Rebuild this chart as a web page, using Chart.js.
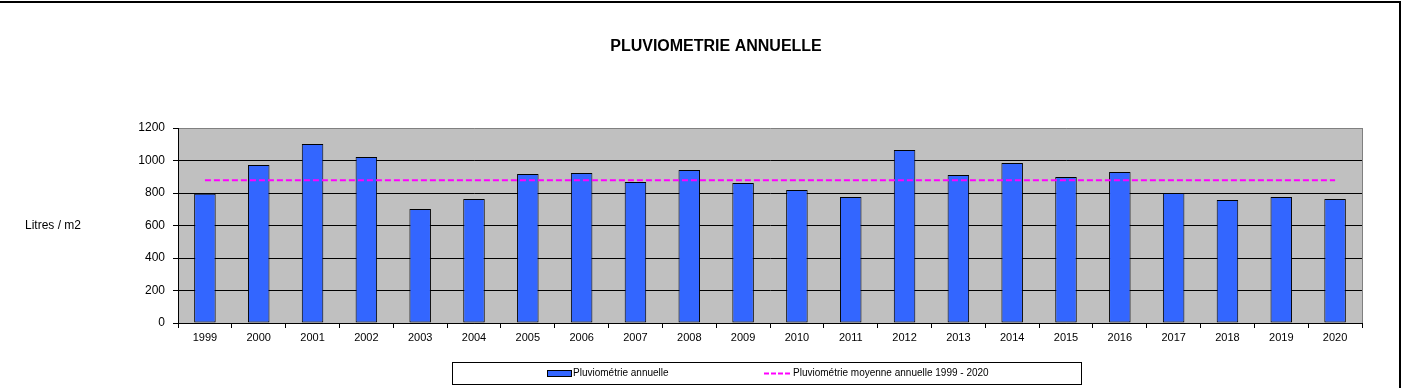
<!DOCTYPE html>
<html lang="fr">
<head>
<meta charset="utf-8">
<title>Pluviométrie annuelle</title>
<script src="https://cdn.jsdelivr.net/npm/chart.js@4/dist/chart.umd.min.js"></script>
<style>
  html, body { margin: 0; padding: 0; background: #ffffff; }
  #wrap { width: 1402px; height: 388px; }
</style>
</head>
<body>
<div id="wrap"><canvas id="chart" width="1402" height="388"></canvas></div>
<script>
// Annual rainfall (litres / m2), 1999 - 2020
const YEARS = ['1999', '2000', '2001', '2002', '2003', '2004', '2005', '2006', '2007', '2008', '2009',
               '2010', '2011', '2012', '2013', '2014', '2015', '2016', '2017', '2018', '2019', '2020'];
const RAINFALL = [795, 972, 1101, 1021, 701, 763, 917, 923, 868, 941, 861,
                  818, 775, 1064, 911, 984, 898, 929, 800, 757, 775, 763];
const MEAN_RAINFALL = [879, 879, 879, 879, 879, 879, 879, 879, 879, 879, 879,
                       879, 879, 879, 879, 879, 879, 879, 879, 879, 879, 879];
const Y_TICKS = [0, 200, 400, 600, 800, 1000, 1200];

const TITLE = 'PLUVIOMETRIE ANNUELLE';
const Y_TITLE = 'Litres / m2';
const BAR_LABEL = 'Pluviométrie annuelle';
const MEAN_LABEL = 'Pluviométrie moyenne annuelle 1999 - 2020';

const FONT = '"Liberation Sans", Arial, Helvetica, sans-serif';
const BAR_COLOR = '#3366FF';
const MEAN_COLOR = '#FF00FF';
const PLOT_BG = '#C0C0C0';

// Page frame, grey plot background, title and the horizontal y-axis caption
const framePlugin = {
  id: 'frame',
  beforeDraw(chart) {
    const { ctx, chartArea: a, width, height } = chart;
    ctx.save();
    ctx.fillStyle = '#ffffff';
    ctx.fillRect(0, 0, width, height);
    ctx.fillStyle = PLOT_BG;
    ctx.fillRect(a.left, a.top, a.right - a.left, a.bottom - a.top);
    ctx.restore();
  },
  beforeDatasetsDraw(chart) {
    const { ctx, chartArea: a } = chart;
    ctx.save();
    ctx.strokeStyle = '#808080';
    ctx.lineWidth = 1;
    ctx.beginPath();
    ctx.moveTo(Math.round(a.right) + 0.5, a.top);
    ctx.lineTo(Math.round(a.right) + 0.5, a.bottom);
    ctx.stroke();
    ctx.restore();
  },
  afterDraw(chart) {
    const { ctx, chartArea: a, width, height } = chart;
    ctx.save();
    // sheet frame
    ctx.strokeStyle = '#000000';
    ctx.lineWidth = 2;
    ctx.beginPath();
    ctx.moveTo(0, 2);
    ctx.lineTo(width - 2, 2);
    ctx.lineTo(width - 2, height);
    ctx.stroke();
    // title
    ctx.fillStyle = '#000000';
    ctx.font = 'bold 16px ' + FONT;
    ctx.textAlign = 'center';
    ctx.textBaseline = 'middle';
    ctx.fillText(TITLE, 716, 47);
    // y caption
    ctx.font = '12px ' + FONT;
    ctx.textAlign = 'left';
    ctx.fillText(Y_TITLE, 25, (a.top + a.bottom) / 2);
    ctx.restore();
  }
};

// Boxed legend under the plot
const boxLegendPlugin = {
  id: 'boxLegend',
  afterDraw(chart) {
    const { ctx } = chart;
    const ds = chart.data.datasets;
    ctx.save();
    ctx.strokeStyle = '#000000';
    ctx.lineWidth = 1;
    ctx.strokeRect(452.5, 362.5, 629, 22);
    const cy = 373.5;
    // bar swatch
    ctx.fillStyle = ds[1].backgroundColor;
    ctx.fillRect(547, cy - 3.5, 25, 7);
    ctx.strokeRect(547.5, cy - 3, 24, 6);
    // dashed line swatch
    ctx.strokeStyle = ds[0].borderColor;
    ctx.lineWidth = 2;
    ctx.setLineDash([5, 2]);
    ctx.beginPath();
    ctx.moveTo(764, cy);
    ctx.lineTo(792, cy);
    ctx.stroke();
    ctx.setLineDash([]);
    ctx.fillStyle = '#000000';
    ctx.font = '10px ' + FONT;
    ctx.textAlign = 'left';
    ctx.textBaseline = 'middle';
    ctx.fillText(ds[1].label, 573, cy);
    ctx.fillText(ds[0].label, 793, cy);
    ctx.restore();
  }
};

new Chart(document.getElementById('chart'), {
  data: {
    labels: YEARS,
    datasets: [
      {
        type: 'line',
        label: MEAN_LABEL,
        data: MEAN_RAINFALL,
        borderColor: MEAN_COLOR,
        backgroundColor: MEAN_COLOR,
        borderWidth: 2,
        borderDash: [6, 3],
        pointRadius: 0,
        fill: false,
        tension: 0,
        order: 0
      },
      {
        type: 'bar',
        label: BAR_LABEL,
        data: RAINFALL,
        backgroundColor: BAR_COLOR,
        borderColor: '#000000',
        borderWidth: 1,
        borderSkipped: false,
        categoryPercentage: 1,
        barPercentage: 0.4,
        order: 1
      }
    ]
  },
  options: {
    responsive: false,
    animation: false,
    devicePixelRatio: 1,
    layout: { padding: { top: 128, left: 138, right: 40, bottom: 35 } },
    plugins: {
      legend: { display: false },
      title: { display: false },
      tooltip: { enabled: false }
    },
    scales: {
      x: {
        offset: true,
        afterFit(scale) { scale.height = 30; },
        grid: {
          offset: true,
          drawOnChartArea: false,
          drawTicks: true,
          tickLength: 5,
          color: '#000000'
        },
        border: { display: true, color: '#000000', width: 1 },
        ticks: {
          color: '#000000',
          padding: 3,
          maxRotation: 0,
          autoSkip: false,
          font: { family: FONT, size: 11 }
        }
      },
      y: {
        min: Y_TICKS[0],
        max: Y_TICKS[Y_TICKS.length - 1],
        afterFit(scale) { scale.width = 40; },
        afterBuildTicks(scale) { scale.ticks = Y_TICKS.map(v => ({ value: v })); },
        grid: {
          color: ctx => (ctx.tick && ctx.tick.value === Y_TICKS[Y_TICKS.length - 1]) ? '#808080' : '#000000',
          tickColor: '#000000',
          lineWidth: 1,
          tickLength: 5
        },
        border: { display: true, color: '#000000', width: 1 },
        ticks: {
          color: '#000000',
          padding: 8,
          callback: v => String(v),
          font: { family: FONT, size: 12 }
        }
      }
    }
  },
  plugins: [framePlugin, boxLegendPlugin]
});
</script>
</body>
</html>
